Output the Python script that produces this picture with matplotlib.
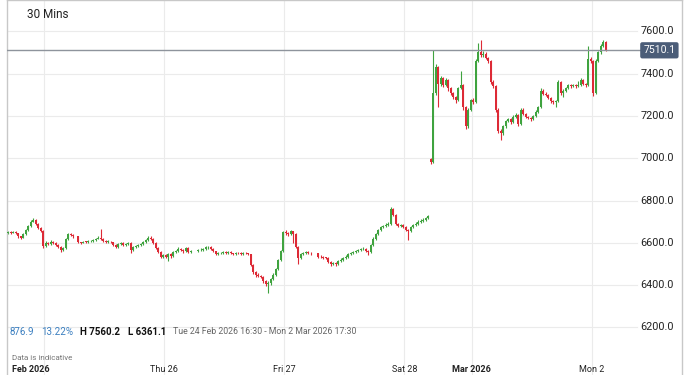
#libraries
import numpy as np
import matplotlib.pyplot as plt

# 30 min candles (nan = no candle)
closes = [
    6650, 6648, 6652, 6645, 6630, 6625, 6640, 6660, 6680, 6700,
    6710, 6690, 6670, 6655, 6585, 6600, 6595, 6605, 6598, 6590,
    6580, 6565, 6575, 6620, 6640, 6635, 6630, np.nan, 6602, 6600,
    6606, 6604, 6608, 6610, 6612, 6620, 6625, 6618, 6610, 6605,
    6606, 6603, 6590, 6580, 6595, 6598, 6590, 6595, 6600, 6565,
    6580, 6585, 6590, 6595, 6605, 6615, 6625, 6620, 6600, 6575,
    6555, 6535, 6540, 6535, 6545, 6538, 6555, 6560, 6570, 6565,
    6560, 6575, 6555, 6560, np.nan, np.nan, 6565, 6568, 6570, 6578,
    6580, 6570, 6560, 6545, 6550, 6552, 6555, 6553, 6555, 6550,
    6548, 6552, 6550, 6548, 6553, 6550, 6545, 6495, 6460, 6450,
    6445, 6440, 6420, 6405, 6410, 6430, 6450, 6475, 6520, 6560,
    6650, 6645, 6640, 6655, 6640, 6580, 6530, 6545, 6550, 6555,
    6552, 6550, np.nan, np.nan, 6535, 6532, 6530, 6528, 6510, 6500,
    6505, 6500, 6515, 6520, 6530, 6535, 6545, 6550, 6555, 6562,
    6565, 6570, 6572, 6560, 6558, 6590, 6620, 6640, 6660, 6675,
    6680, 6685, 6690, 6760, 6730, 6690, 6680, 6685, 6675, 6660,
    6655, 6675, 6685, 6690, 6700, 6705, 6710, 6718, 6725, 6980,
    7310, 7430, 7350, 7380, 7345, 7370, 7330, 7310, 7290, 7275,
    7330, 7345, 7240, 7150, 7230, 7275, 7265, 7460, 7500, 7490,
    7495, 7475, 7460, 7360, 7340, 7230, 7130, 7120, 7150, 7175,
    7185, 7170, 7195, 7205, 7160, 7230, 7210, 7195, 7190, 7185,
    7200, 7220, 7240, 7320, 7305, 7300, 7285, 7270, 7265, 7270,
    7360, 7310, 7320, 7330, 7345, 7340, 7345, 7340, 7345, 7370,
    7350, 7345, 7470, 7460, 7310, 7460, 7500, 7530, 7550, 7510.1,
]

highs = [
    6656, 6655, 6658, 6655, 6648, 6633, 6644, 6664, 6685, 6706,
    6718, 6713, 6694, 6673, 6660, 6610, 6606, 6612, 6608, 6602,
    6594, 6584, 6580, 6625, 6645, 6644, 6640, np.nan, 6632, 6606,
    6610, 6610, 6612, 6615, 6617, 6625, 6630, 6665, 6622, 6614,
    6611, 6609, 6606, 6594, 6600, 6604, 6602, 6600, 6606, 6603,
    6586, 6590, 6596, 6600, 6610, 6620, 6630, 6630, 6624, 6604,
    6580, 6560, 6546, 6545, 6550, 6550, 6560, 6568, 6578, 6575,
    6570, 6580, 6578, 6565, np.nan, np.nan, 6570, 6574, 6576, 6583,
    6586, 6584, 6574, 6563, 6555, 6557, 6560, 6560, 6560, 6559,
    6554, 6557, 6556, 6555, 6558, 6557, 6554, 6548, 6500, 6465,
    6458, 6450, 6444, 6425, 6418, 6435, 6455, 6480, 6525, 6565,
    6658, 6660, 6652, 6660, 6658, 6645, 6585, 6552, 6556, 6560,
    6562, 6558, np.nan, np.nan, 6552, 6540, 6538, 6535, 6532, 6514,
    6511, 6510, 6520, 6526, 6535, 6541, 6550, 6556, 6562, 6568,
    6572, 6577, 6580, 6576, 6566, 6596, 6626, 6646, 6666, 6680,
    6686, 6692, 6697, 6770, 6765, 6735, 6695, 6690, 6690, 6680,
    6664, 6680, 6690, 6696, 6706, 6712, 6716, 6724, 6732, 7000,
    7510, 7445, 7435, 7390, 7385, 7378, 7375, 7335, 7315, 7295,
    7338, 7410, 7350, 7245, 7238, 7282, 7285, 7470, 7545, 7560,
    7505, 7500, 7480, 7465, 7368, 7345, 7235, 7140, 7158, 7182,
    7192, 7190, 7202, 7212, 7210, 7238, 7235, 7215, 7200, 7195,
    7206, 7226, 7248, 7330, 7326, 7312, 7305, 7290, 7276, 7276,
    7370, 7365, 7328, 7336, 7352, 7350, 7352, 7350, 7365, 7378,
    7375, 7356, 7530, 7478, 7465, 7468, 7508, 7538, 7560, 7556,
]

lows = [
    6640, 6643, 6644, 6640, 6625, 6620, 6622, 6637, 6656, 6676,
    6696, 6686, 6665, 6650, 6575, 6580, 6588, 6590, 6592, 6584,
    6575, 6558, 6560, 6570, 6615, 6630, 6625, np.nan, 6598, 6596,
    6597, 6600, 6601, 6604, 6606, 6608, 6616, 6612, 6605, 6600,
    6600, 6598, 6585, 6574, 6576, 6590, 6585, 6586, 6590, 6550,
    6560, 6575, 6580, 6585, 6590, 6600, 6610, 6614, 6595, 6570,
    6550, 6528, 6530, 6528, 6515, 6530, 6534, 6550, 6556, 6560,
    6550, 6555, 6550, 6550, np.nan, np.nan, 6558, 6560, 6563, 6566,
    6573, 6565, 6555, 6540, 6540, 6546, 6548, 6548, 6549, 6545,
    6543, 6544, 6545, 6543, 6544, 6545, 6540, 6490, 6452, 6440,
    6438, 6432, 6412, 6395, 6361.1, 6402, 6425, 6445, 6470, 6515,
    6555, 6638, 6630, 6635, 6600, 6575, 6500, 6525, 6540, 6545,
    6547, 6544, np.nan, np.nan, 6530, 6527, 6524, 6522, 6504, 6490,
    6494, 6492, 6496, 6510, 6515, 6525, 6530, 6540, 6545, 6550,
    6558, 6560, 6565, 6555, 6540, 6553, 6585, 6614, 6635, 6655,
    6670, 6675, 6680, 6686, 6725, 6684, 6674, 6675, 6668, 6655,
    6615, 6650, 6670, 6680, 6686, 6695, 6700, 6705, 6712, 6972,
    6975, 7300, 7240, 7340, 7335, 7340, 7320, 7300, 7280, 7260,
    7270, 7325, 7230, 7140, 7145, 7225, 7258, 7260, 7455, 7480,
    7480, 7468, 7450, 7350, 7330, 7220, 7120, 7085, 7112, 7145,
    7170, 7160, 7165, 7190, 7150, 7155, 7205, 7190, 7183, 7178,
    7180, 7195, 7215, 7235, 7298, 7292, 7278, 7262, 7258, 7240,
    7265, 7300, 7290, 7314, 7325, 7334, 7335, 7334, 7335, 7340,
    7344, 7338, 7340, 7452, 7295, 7305, 7455, 7495, 7525, 7505,
]

# opens follow the previous close, except where a session starts
first_open = 6645
session_opens = {169: 6995}

price_ticks = [6200, 6400, 6600, 6800, 7000, 7200, 7400, 7600]
last_price = 7510.1

# day boundaries (candle index) and their labels
day_idx = [15, 63, 111, 159, 186, 234]
day_labels = ["Feb 2026", "Thu 26", "Fri 27", "Sat 28", "Mar 2026", "Mon 2"]
day_bold = [True, False, False, False, True, False]

change = "876.9"
change_pct = "13.22%"
high_txt = "H 7560.2"
low_txt = "L 6361.1"
range_txt = "Tue 24 Feb 2026 16:30 - Mon 2 Mar 2026 17:30"

#build ohlc
closes = np.array(closes, dtype=float)
highs = np.array(highs, dtype=float)
lows = np.array(lows, dtype=float)
opens = np.empty_like(closes)
last = first_open
for i, c in enumerate(closes):
    opens[i] = session_opens.get(i, last)
    if not np.isnan(c):
        last = c
idx = np.arange(len(closes))

green = "#3fa33f"
red = "#dd2a36"
up = closes >= opens
cols = np.where(up, green, red)

plt.rcParams['font.family'] = ['Roboto', 'DejaVu Sans']

W, H = 700, 375
fig = plt.figure(figsize=(7, 3.75), dpi=100)
ax = fig.add_axes([7 / W, 0, 675 / W, 1])

# pixel mapping: candle i at x = 8 + 2.5 i, 7600 at y=31.3, 200 pts = 42.3 px
ppp = 200 / 42.3
ax.set_xlim(-0.4, 269.6)
ax.set_ylim(7600 - (H - 31.3) * ppp, 7600 + 31.3 * ppp)

ax.spines["bottom"].set_visible(False)
for s in ["left", "right", "top"]:
    ax.spines[s].set_color("#c8c8c8")
    ax.spines[s].set_linewidth(1)
ax.set_xticks([])
ax.set_yticks([])

# grid
for p in price_ticks:
    ax.axhline(p, xmin=0, xmax=0.933, color="#ebebeb", lw=0.8, zorder=0)
    ax.text(0.988, p, f"{p:.1f}", transform=ax.get_yaxis_transform(),
            ha="right", va="center", fontsize=7.8, color="#222222")
for d in day_idx:
    ax.axvline(d - 0.5, color="#ebebeb", lw=0.8, zorder=0)

# candles
ax.vlines(idx, lows, highs, colors=cols, lw=0.8, zorder=2)
body_lo = np.minimum(opens, closes)
body_h = np.maximum(np.abs(closes - opens), 2.5)
ax.bar(idx, body_h, bottom=body_lo, width=0.8, color=cols, linewidth=0, zorder=3)

# last price line and tag
ax.axhline(last_price, xmin=0, xmax=0.945, color="#8e949c", lw=1, zorder=4)
ax.text(0.9665, last_price, f"{last_price:.1f}", transform=ax.get_yaxis_transform(),
        ha="center", va="center", fontsize=7.5, color="white", zorder=5,
        bbox=dict(boxstyle="round,pad=0.3,rounding_size=0.2", fc="#4b5d78", ec="none"))

# texts
fig.text(27 / W, 1 - 14 / H, "30 Mins", fontsize=8.5, color="#222222", va="center")

# stats row, each piece placed after the previous one
y_stats = 1 - 332 / H
renderer = fig.canvas.get_renderer()
x = 10
pieces = [(change, "#3b7fc0", "normal", 7.0), (change_pct, "#3b7fc0", "normal", 7.0),
          (high_txt, "#111111", "bold", 7.0), (low_txt, "#111111", "bold", 7.0),
          (range_txt, "#666666", "normal", 6.3)]
for txt, col, wt, fs in pieces:
    t = fig.text(x / W, y_stats, txt, fontsize=fs, color=col, va="center", weight=wt)
    x = t.get_window_extent(renderer).x1 + 7

fig.text(12 / W, 1 - 358 / H, "Data is indicative", fontsize=5.8, color="#777777", va="center")

# day labels along the bottom edge
for d, lab, b in zip(day_idx, day_labels, day_bold):
    if lab == "Feb 2026":
        fig.text(12 / W, 1 / H, lab, ha="left", va="bottom", fontsize=6.5,
                 weight="bold", color="#222222")
    else:
        ax.text(d - 0.5, 1 / H, lab, transform=ax.get_xaxis_transform(),
                ha="center", va="bottom", fontsize=6.5,
                weight="bold" if b else "normal", color="#222222")

fig.savefig("out.png", dpi=100)
